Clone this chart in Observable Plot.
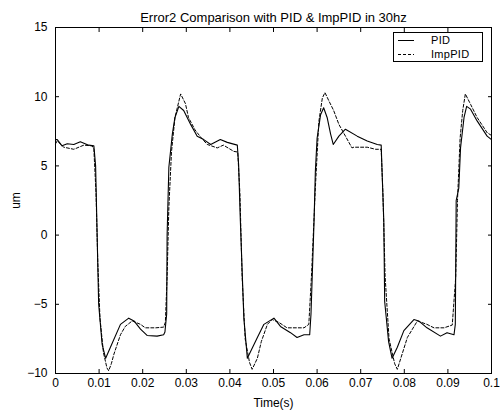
<!DOCTYPE html>
<html>
<head>
<meta charset="utf-8">
<script src="https://cdn.jsdelivr.net/npm/d3@7"></script>
<script src="https://cdn.jsdelivr.net/npm/@observablehq/plot@0.6"></script>
<style>
  html, body { margin: 0; padding: 0; background: #fff; }
  #chart { position: relative; width: 502px; height: 414px; font-family: "Liberation Sans", Arial, Helvetica, sans-serif; }
  #legend { position: absolute; left: 393px; top: 32px; width: 90px; height: 30px; border: 1px solid #000; background: #fff; box-sizing: border-box; font-size: 11px; }
  #legend .row { position: absolute; left: 0; height: 13px; width: 100%; }
  #legend svg { position: absolute; left: 3px; top: 0; }
  #legend span { position: absolute; left: 37px; top: 0; line-height: 13px; letter-spacing: 0.3px; }
</style>
</head>
<body>
<div id="chart"></div>
<script>
const title = "Error2 Comparison with PID & ImpPID in 30hz";
const xLabel = "Time(s)";
const yLabel = "um";
const seriesNames = ["PID", "ImpPID"];

const xTicks = [0, 0.01, 0.02, 0.03, 0.04, 0.05, 0.06, 0.07, 0.08, 0.09, 0.1];
const xTickLabels = ["0", "0.01", "0.02", "0.03", "0.04", "0.05", "0.06", "0.07", "0.08", "0.09", "0.1"];
const yTicks = [-10, -5, 0, 5, 10, 15];

const pidTime = [
  0.0000, 0.0004, 0.0015, 0.0027, 0.0042, 0.0057, 0.0076, 0.0088, 0.0092, 0.0099, 0.0107, 0.0115,
  0.0126, 0.0149, 0.0168, 0.0180, 0.0195, 0.0210, 0.0233, 0.0248, 0.0251, 0.0255, 0.0256, 0.0260,
  0.0268, 0.0274, 0.0283, 0.0294, 0.0310, 0.0325, 0.0340, 0.0356, 0.0378, 0.0394, 0.0417, 0.0420,
  0.0424, 0.0432, 0.0440, 0.0463, 0.0478, 0.0501, 0.0516, 0.0539, 0.0554, 0.0570, 0.0583, 0.0586,
  0.0593, 0.0596, 0.0600, 0.0608, 0.0615, 0.0623, 0.0631, 0.0637, 0.0650, 0.0665, 0.0692, 0.0715,
  0.0738, 0.0747, 0.0749, 0.0753, 0.0755, 0.0764, 0.0772, 0.0784, 0.0799, 0.0822, 0.0833, 0.0852,
  0.0883, 0.0898, 0.0914, 0.0917, 0.0919, 0.0925, 0.0929, 0.0937, 0.0943, 0.0952, 0.0967, 0.0990,
  0.1000
];
const pidValue = [
  6.9, 6.9, 6.45, 6.6, 6.55, 6.75, 6.5, 6.45, 5.0, -5.0, -7.9, -8.9,
  -8.1, -6.45, -6.0, -6.2, -6.8, -7.25, -7.3, -7.2, -7.0, -5.7, 0.0, 4.9,
  7.3, 8.5, 9.3, 9.0, 8.0, 7.15, 6.9, 6.55, 6.9, 6.7, 6.5, 5.1,
  1.0, -6.0, -8.9, -7.4, -6.45, -6.0, -6.6, -7.05, -7.4, -7.2, -7.2, -5.7,
  1.0, 4.6, 7.0, 8.7, 9.2, 8.5, 7.3, 6.55, 7.15, 7.65, 7.15, 6.8,
  6.55, 6.5, 4.6, 1.0, -4.8, -7.7, -8.9, -8.1, -6.9, -6.1, -6.2, -6.7,
  -7.3, -7.05, -7.2, -6.45, 2.5, 3.4, 6.3, 8.5, 9.3, 9.1, 8.25, 7.15,
  6.9
];

const impTime = [
  0.0000, 0.0004, 0.0019, 0.0042, 0.0065, 0.0084, 0.0088, 0.0093, 0.0097, 0.0102, 0.0110, 0.0118,
  0.0122, 0.0128, 0.0134, 0.0149, 0.0160, 0.0176, 0.0195, 0.0206, 0.0230, 0.0248, 0.0252, 0.0256,
  0.0260, 0.0266, 0.0274, 0.0287, 0.0298, 0.0305, 0.0320, 0.0335, 0.0348, 0.0371, 0.0385, 0.0409,
  0.0418, 0.0423, 0.0428, 0.0435, 0.0445, 0.0451, 0.0463, 0.0472, 0.0486, 0.0497, 0.0512, 0.0531,
  0.0570, 0.0581, 0.0587, 0.0596, 0.0604, 0.0612, 0.0618, 0.0627, 0.0638, 0.0650, 0.0665, 0.0680,
  0.0684, 0.0715, 0.0734, 0.0747, 0.0751, 0.0756, 0.0765, 0.0778, 0.0784, 0.0795, 0.0807, 0.0830,
  0.0852, 0.0868, 0.0891, 0.0910, 0.0918, 0.0922, 0.0928, 0.0934, 0.0940, 0.0952, 0.0967, 0.0990,
  0.1000
];
const impValue = [
  6.6, 6.8, 6.35, 6.2, 6.5, 6.45, 6.2, 3.0, -2.0, -6.0, -8.5, -9.6,
  -9.8, -9.3, -8.6, -7.2, -6.6, -6.2, -6.45, -6.7, -6.7, -6.65, -6.3, -3.0,
  2.0, 6.0, 8.5, 10.2, 9.5, 8.5, 7.6, 7.0, 6.55, 6.3, 6.5, 6.05,
  6.0, 3.0, -3.0, -7.5, -9.2, -9.7, -8.9, -7.7, -6.45, -6.1, -6.3, -6.7,
  -6.7, -6.45, -3.0, 3.4, 8.2, 9.9, 10.3, 9.7, 9.0, 8.0, 7.15, 6.3,
  6.35, 6.35, 6.2, 6.2, 3.0, -3.0, -7.5, -9.3, -9.7, -8.6, -7.4, -6.2,
  -6.45, -6.7, -6.7, -6.5, -3.0, 2.5, 7.0, 9.0, 10.2, 9.45, 8.5, 7.4,
  7.2
];

const rows = [
  ...pidTime.map((t, i) => ({t, v: pidValue[i], s: seriesNames[0]})),
  ...impTime.map((t, i) => ({t, v: impValue[i], s: seriesNames[1]}))
];

const font = "'Liberation Sans', Arial, Helvetica, sans-serif";

const chart = Plot.plot({
  width: 502,
  height: 414,
  marginLeft: 55,
  marginRight: 11,
  marginTop: 27,
  marginBottom: 41,
  style: {fontFamily: font, fontSize: "12px", background: "#fff", color: "#000"},
  x: {domain: [0, 0.1]},
  y: {domain: [-10, 15]},
  marks: [
    Plot.frame({stroke: "#000", strokeWidth: 1}),
    Plot.axisX({anchor: "bottom", ticks: xTicks, tickSize: -4, tickPadding: 9,
      tickFormat: (d) => xTickLabels[xTicks.indexOf(d)],
      label: xLabel, labelAnchor: "center", labelArrow: "none", labelOffset: 33}),
    Plot.axisX({anchor: "top", ticks: xTicks, tickSize: -4, tickFormat: () => "", label: null}),
    Plot.axisY({anchor: "left", ticks: yTicks, tickSize: -4, tickPadding: 12,
      label: yLabel, labelAnchor: "center", labelArrow: "none", labelOffset: 44}),
    Plot.axisY({anchor: "right", ticks: yTicks, tickSize: -4, tickFormat: () => "", label: null}),
    Plot.line(rows.filter(d => d.s === seriesNames[0]), {x: "t", y: "v", stroke: "#000", strokeWidth: 1.1}),
    Plot.line(rows.filter(d => d.s === seriesNames[1]), {x: "t", y: "v", stroke: "#000", strokeWidth: 1, strokeDasharray: "3,2"}),
    Plot.text([title], {frameAnchor: "top", dy: -15, fontSize: 13, text: d => d, letterSpacing: "0.6px"})
  ]
});

const container = document.getElementById("chart");
container.appendChild(chart);

const legend = document.createElement("div");
legend.id = "legend";
seriesNames.forEach((name, i) => {
  const row = document.createElement("div");
  row.className = "row";
  row.style.top = (1 + i * 14) + "px";
  row.innerHTML = `<svg width="20" height="13"><line x1="1" x2="17" y1="6.5" y2="6.5" stroke="#000" stroke-width="1" ${i === 1 ? 'stroke-dasharray="3,2"' : ''}/></svg><span>${name}</span>`;
  legend.appendChild(row);
});
container.appendChild(legend);
</script>
</body>
</html>
